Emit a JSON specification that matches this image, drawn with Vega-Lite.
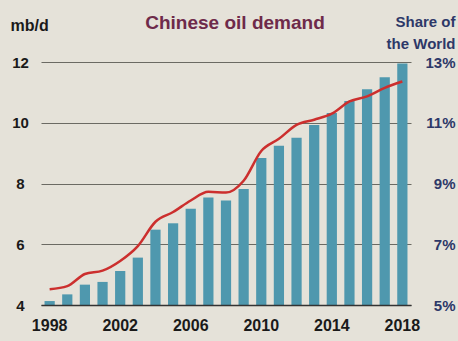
{
  "$schema": "https://vega.github.io/schema/vega-lite/v6.json",
  "width": 370,
  "height": 243,
  "autosize": {"type": "none"},
  "padding": {"left": 41, "top": 62, "right": 47, "bottom": 36},
  "background": "#e5e2d9",
  "config": {
    "view": {"stroke": null},
    "font": "Liberation Sans",
    "axis": {"labelFont": "Liberation Sans", "titleFont": "Liberation Sans", "labelFontWeight": "bold", "titleFontWeight": "bold"}
  },
  "title": {
    "text": "Chinese oil demand",
    "color": "#6e2a4a",
    "fontSize": 19,
    "fontWeight": "bold",
    "font": "Liberation Sans",
    "anchor": "middle",
    "dx": 9,
    "offset": 0,
    "dy": 19
  },
  "data": {
    "values": [
      {"year": 1998, "demand": 4.13, "share": 5.52},
      {"year": 1999, "demand": 4.35, "share": 5.62},
      {"year": 2000, "demand": 4.67, "share": 6.02},
      {"year": 2001, "demand": 4.76, "share": 6.13},
      {"year": 2002, "demand": 5.12, "share": 6.45},
      {"year": 2003, "demand": 5.56, "share": 6.94},
      {"year": 2004, "demand": 6.48, "share": 7.74},
      {"year": 2005, "demand": 6.69, "share": 8.06},
      {"year": 2006, "demand": 7.17, "share": 8.44},
      {"year": 2007, "demand": 7.54, "share": 8.73},
      {"year": 2008, "demand": 7.44, "share": 8.70},
      {"year": 2009, "demand": 7.82, "share": 9.09},
      {"year": 2010, "demand": 8.84, "share": 10.07},
      {"year": 2011, "demand": 9.24, "share": 10.47},
      {"year": 2012, "demand": 9.51, "share": 10.93},
      {"year": 2013, "demand": 9.93, "share": 11.10},
      {"year": 2014, "demand": 10.32, "share": 11.30},
      {"year": 2015, "demand": 10.72, "share": 11.70},
      {"year": 2016, "demand": 11.10, "share": 11.87},
      {"year": 2017, "demand": 11.50, "share": 12.15},
      {"year": 2018, "demand": 11.95, "share": 12.36}
    ]
  },
  "encoding": {
    "x": {
      "field": "year",
      "type": "ordinal",
      "scale": {"paddingInner": 0.42, "paddingOuter": 0.2},
      "axis": {
        "values": [1998, 2002, 2006, 2010, 2014, 2018],
        "title": null,
        "labelAngle": 0,
        "labelFontSize": 16,
        "labelColor": "#1a1a1a",
        "labelPadding": 12,
        "ticks": false,
        "tickSize": 0,
        "domainColor": "#333333",
        "domainWidth": 1.5,
        "zindex": 1
      }
    }
  },
  "layer": [
    {
      "mark": {"type": "bar", "color": "#4f98ae"},
      "encoding": {
        "y": {
          "field": "demand",
          "type": "quantitative",
          "scale": {"domain": [4, 12], "zero": false, "nice": false},
          "axis": {
            "values": [4, 6, 8, 10, 12],
            "title": "mb/d",
            "titleAngle": 0,
            "titleX": -31,
            "titleY": -37,
            "titleAlign": "left",
            "titleBaseline": "middle",
            "titleFontSize": 16,
            "titleColor": "#1a1a1a",
            "labelFontSize": 15,
            "labelColor": "#1a1a1a",
            "labelAlign": "center",
            "labelPadding": 21,
            "ticks": false,
            "tickSize": 0,
            "domain": false,
            "grid": true,
            "gridColor": "#6b6a63",
            "gridWidth": 1.2
          }
        },
        "y2": {"datum": 4}
      }
    },
    {
      "mark": {"type": "line", "color": "#cc2f2e", "strokeWidth": 2.5, "interpolate": "monotone"},
      "encoding": {
        "y": {
          "field": "share",
          "type": "quantitative",
          "scale": {"domain": [5, 13], "zero": false, "nice": false},
          "axis": {
            "orient": "right",
            "values": [5, 7, 9, 11, 13],
            "labelExpr": "datum.value + '%'",
            "title": ["Share of", "the World"],
            "titleAngle": 0,
            "titleX": 44,
            "titleY": -41,
            "titleAlign": "right",
            "titleBaseline": "middle",
            "titleFontSize": 15,
            "titleLineHeight": 22,
            "titleColor": "#2d3868",
            "labelFontSize": 15,
            "labelColor": "#2d3868",
            "labelAlign": "right",
            "labelPadding": 44,
            "ticks": false,
            "tickSize": 0,
            "domain": false,
            "grid": false
          }
        }
      }
    }
  ],
  "resolve": {"scale": {"y": "independent"}}
}
